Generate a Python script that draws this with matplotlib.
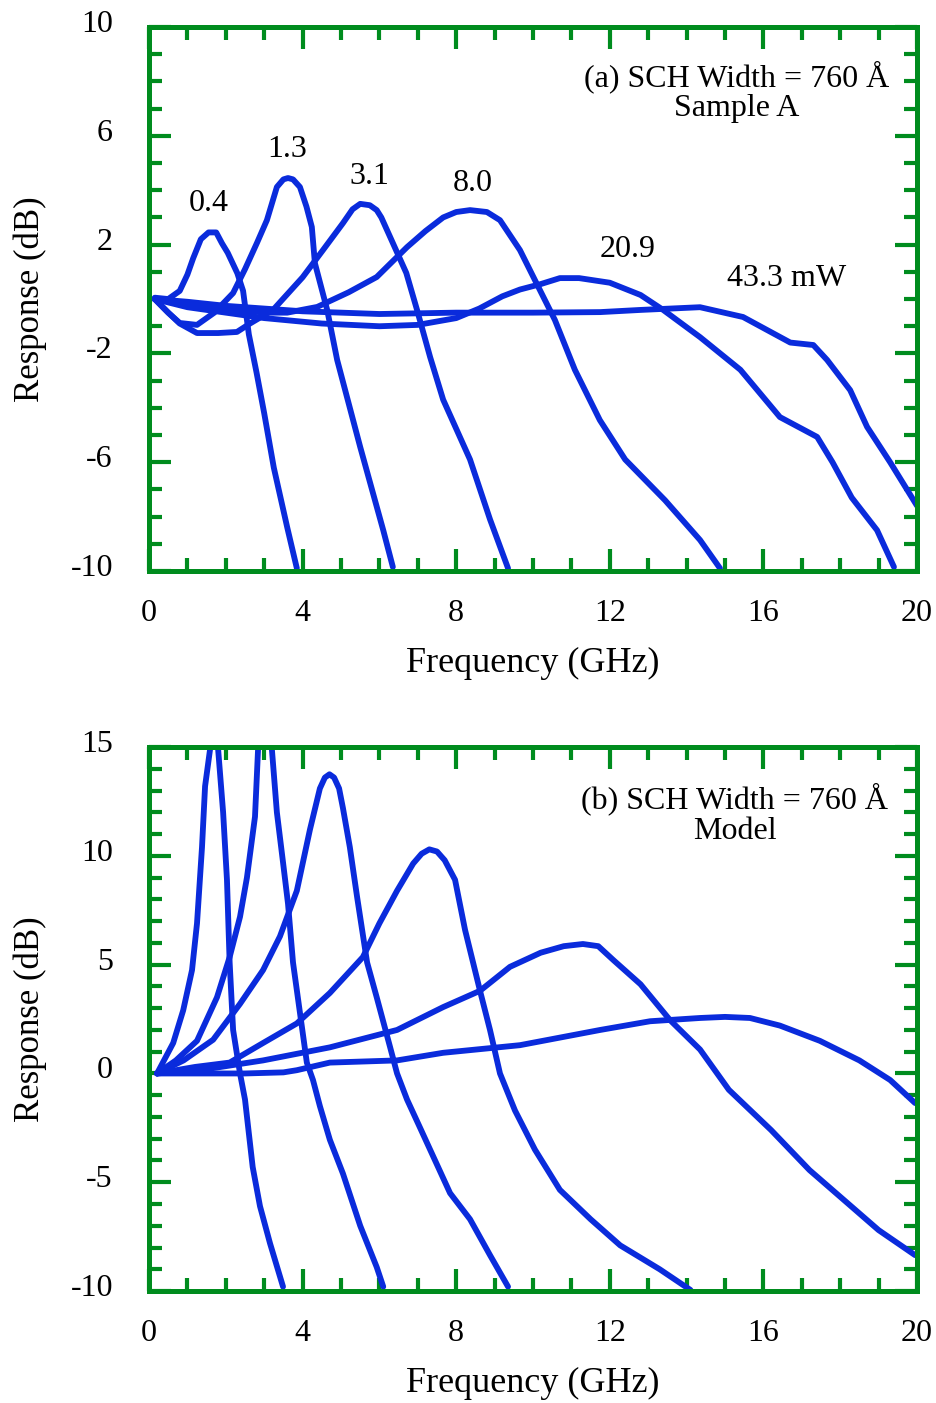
import matplotlib.pyplot as plt
from matplotlib.ticker import MultipleLocator, FixedLocator
from matplotlib.transforms import ScaledTranslation

plt.rcParams['font.family'] = ['Liberation Serif', 'DejaVu Serif']
plt.rcParams['axes.unicode_minus'] = False

BLUE = '#0a2bdc'
GREEN = '#008c1e'

# panel (a): measured response, Sample A
a_04_x = [0.15, 0.5, 0.8, 1.0, 1.15, 1.35, 1.55, 1.75, 1.9, 2.05, 2.3, 2.45, 2.6, 2.8, 3.0, 3.25, 3.6, 3.85]
a_04_y = [0.05, 0.0, 0.3, 0.9, 1.5, 2.2, 2.45, 2.45, 2.05, 1.7, 0.95, 0.3, -1.3, -2.7, -4.2, -6.2, -8.4, -9.9]

a_13_x = [0.15, 0.5, 0.8, 1.25, 1.7, 2.19, 2.5, 2.81, 3.07, 3.33, 3.5, 3.62, 3.75, 3.93, 4.1, 4.24, 4.32, 4.64, 4.9, 5.5, 6.1, 6.35]
a_13_y = [0.0, -0.5, -0.88, -0.95, -0.5, 0.22, 1.1, 2.06, 2.9, 4.12, 4.4, 4.45, 4.4, 4.12, 3.4, 2.65, 1.32, -0.4, -2.24, -5.44, -8.5, -9.85]

a_31_x = [0.15, 0.5, 0.8, 1.25, 1.8, 2.29, 2.63, 3.23, 4.0, 4.53, 5.05, 5.3, 5.5, 5.75, 5.93, 6.05, 6.35, 6.7, 6.98, 7.32, 7.66, 8.36, 8.88, 9.35]
a_31_y = [0.0, -0.5, -0.9, -1.25, -1.25, -1.21, -0.9, -0.4, 0.8, 1.8, 2.79, 3.3, 3.5, 3.45, 3.27, 3.0, 2.06, 0.96, -0.4, -2.13, -3.7, -5.9, -8.1, -9.9]

a_80_x = [0.15, 1.0, 2.0, 3.0, 3.6, 4.38, 5.2, 5.93, 6.72, 7.2, 7.66, 8.0, 8.36, 8.8, 9.14, 9.66, 10.18, 10.57, 11.09, 11.74, 12.4, 13.44, 14.35, 14.87]
a_80_y = [0.0, -0.15, -0.35, -0.5, -0.5, -0.29, 0.25, 0.81, 1.91, 2.5, 3.0, 3.2, 3.27, 3.2, 2.9, 1.8, 0.33, -0.77, -2.6, -4.45, -5.9, -7.4, -8.86, -9.9]

a_209_x = [0.15, 1.0, 2.0, 3.0, 4.5, 6.0, 7.0, 8.0, 8.6, 9.2, 9.66, 10.2, 10.7, 11.2, 12.0, 12.8, 13.39, 14.35, 15.4, 16.43, 17.4, 17.8, 18.3, 18.96, 19.4]
a_209_y = [0.0, -0.3, -0.5, -0.7, -0.9, -1.0, -0.95, -0.7, -0.35, 0.1, 0.35, 0.55, 0.77, 0.77, 0.6, 0.15, -0.4, -1.4, -2.6, -4.34, -5.07, -6.0, -7.3, -8.5, -9.85]

a_433_x = [0.15, 1.0, 2.0, 4.0, 6.0, 8.0, 10.0, 11.75, 12.8, 14.35, 15.47, 16.7, 17.3, 17.66, 18.26, 18.7, 19.3, 20.0]
a_433_y = [0.0, -0.1, -0.25, -0.45, -0.55, -0.5, -0.5, -0.48, -0.4, -0.3, -0.66, -1.6, -1.69, -2.24, -3.35, -4.7, -6.0, -7.6]

a_labels = ['0.4', '1.3', '3.1', '8.0', '20.9', '43.3 mW']
a_label_x = [1.56, 3.59, 5.73, 8.44, 12.47, 16.6]
a_label_y = [3.53, 5.51, 4.52, 4.26, 1.84, 0.74]
a_yticks = [-10, -6, -2, 2, 6, 10]

# panel (b): model
b_1_x = [0.21, 0.63, 0.89, 1.12, 1.25, 1.38, 1.46, 1.59, 1.7, 1.8, 1.93, 2.03, 2.1, 2.19, 2.37, 2.5, 2.7, 2.89, 3.15, 3.49]
b_1_y = [0.0, 1.4, 2.9, 4.75, 6.9, 10.4, 13.2, 14.9, 16.0, 14.9, 12.0, 8.9, 5.1, 2.0, 0.0, -1.2, -4.3, -6.1, -7.8, -9.8]

b_2_x = [0.21, 0.7, 1.25, 1.77, 2.1, 2.37, 2.55, 2.76, 2.84, 3.0, 3.2, 3.33, 3.49, 3.62, 3.75, 3.93, 4.11, 4.27, 4.45, 4.71, 5.05, 5.5, 5.93, 6.1]
b_2_y = [0.0, 0.6, 1.5, 3.5, 5.35, 7.2, 9.0, 11.8, 14.9, 17.0, 14.9, 12.0, 9.7, 7.8, 5.1, 2.8, 0.5, -0.3, -1.5, -3.05, -4.6, -7.0, -8.9, -9.8]

b_3_x = [0.21, 0.9, 1.67, 2.37, 2.97, 3.41, 3.85, 4.19, 4.45, 4.58, 4.7, 4.82, 4.95, 5.05, 5.23, 5.42, 5.68, 5.93, 6.28, 6.46, 6.72, 7.06, 7.32, 7.84, 8.36, 8.88, 9.35]
b_3_y = [0.0, 0.6, 1.55, 3.2, 4.75, 6.3, 8.4, 11.2, 13.1, 13.6, 13.75, 13.6, 13.1, 12.2, 10.4, 8.1, 5.1, 3.5, 1.2, 0.0, -1.2, -2.5, -3.5, -5.5, -6.7, -8.35, -9.8]

b_4_x = [0.21, 1.2, 2.1, 2.97, 3.85, 4.71, 5.57, 6.0, 6.46, 6.88, 7.1, 7.3, 7.5, 7.7, 7.97, 8.23, 8.62, 8.88, 9.14, 9.53, 10.05, 10.7, 11.5, 12.27, 13.3, 14.1]
b_4_y = [0.0, 0.3, 0.5, 1.4, 2.3, 3.7, 5.35, 6.9, 8.4, 9.65, 10.1, 10.3, 10.2, 9.8, 8.9, 6.6, 3.8, 2.0, 0.0, -1.7, -3.5, -5.35, -6.7, -7.9, -9.0, -9.95]

b_5_x = [0.21, 1.5, 2.97, 4.71, 6.46, 7.66, 8.62, 9.4, 10.2, 10.8, 11.3, 11.7, 12.1, 12.8, 13.57, 14.35, 15.1, 16.2, 17.2, 18.25, 19.0, 19.95]
b_5_y = [0.0, 0.2, 0.6, 1.2, 2.0, 3.05, 3.8, 4.9, 5.55, 5.85, 5.95, 5.85, 5.2, 4.1, 2.45, 1.1, -0.75, -2.6, -4.44, -6.05, -7.2, -8.35]

b_6_x = [0.21, 1.5, 2.5, 3.5, 3.85, 4.71, 6.46, 7.66, 9.66, 11.75, 13.05, 14.35, 15.0, 15.65, 16.43, 17.47, 18.5, 19.3, 19.95]
b_6_y = [0.0, 0.0, 0.0, 0.05, 0.15, 0.5, 0.6, 0.95, 1.3, 2.0, 2.4, 2.55, 2.6, 2.55, 2.2, 1.5, 0.6, -0.3, -1.36]


def style_axes(ax, ylim, yticks):
    ax.set_xlim(0, 20)
    ax.set_ylim(*ylim)
    ax.xaxis.set_major_locator(MultipleLocator(4))
    ax.xaxis.set_minor_locator(MultipleLocator(1))
    ax.yaxis.set_major_locator(FixedLocator(yticks))
    ax.yaxis.set_minor_locator(MultipleLocator(1))
    for sp in ax.spines.values():
        sp.set_color(GREEN)
        sp.set_linewidth(3.6)
    ax.tick_params(which='both', direction='in', top=True, right=True,
                   color=GREEN, width=3.0, labelsize=23)
    ax.tick_params(which='major', length=16)
    ax.tick_params(which='minor', length=9.5)
    ax.tick_params(axis='x', pad=20)
    ax.tick_params(axis='y', pad=26)
    ax.set_xlabel('Frequency (GHz)', fontsize=26, labelpad=14)
    ax.set_ylabel('Response (dB)', fontsize=25, labelpad=17)
    # y tick labels sit a little above their ticks in the original
    shift = ScaledTranslation(0, 6 / 100, ax.figure.dpi_scale_trans)
    for lab in ax.get_yticklabels():
        lab.set_transform(lab.get_transform() + shift)


fig = plt.figure(figsize=(9.36, 14.03), dpi=100)
ax1 = fig.add_axes([0.1592, 0.593, 0.8205, 0.3877])
ax2 = fig.add_axes([0.1592, 0.0798, 0.8205, 0.3877])

for xs, ys in [(a_04_x, a_04_y), (a_13_x, a_13_y), (a_31_x, a_31_y),
               (a_80_x, a_80_y), (a_209_x, a_209_y), (a_433_x, a_433_y)]:
    ax1.plot(xs, ys, color=BLUE, lw=4.2, solid_joinstyle='round', solid_capstyle='round')
for lab, lx, ly in zip(a_labels, a_label_x, a_label_y):
    ax1.text(lx, ly, lab, fontsize=23, ha='center', va='center')
ax1.text(15.3, 8.16, '(a) SCH Width = 760 Å', fontsize=23, ha='center', va='center')
ax1.text(15.3, 7.02, 'Sample A', fontsize=23, ha='center', va='center')
style_axes(ax1, (-10, 10), a_yticks)

for xs, ys in [(b_1_x, b_1_y), (b_2_x, b_2_y), (b_3_x, b_3_y),
               (b_4_x, b_4_y), (b_5_x, b_5_y), (b_6_x, b_6_y)]:
    ax2.plot(xs, ys, color=BLUE, lw=4.2, solid_joinstyle='round', solid_capstyle='round')
ax2.text(15.25, 12.6, '(b) SCH Width = 760 Å', fontsize=23, ha='center', va='center')
ax2.text(15.25, 11.14, 'Model', fontsize=23, ha='center', va='center')
style_axes(ax2, (-10, 15), [-10, -5, 0, 5, 10, 15])

fig.savefig('out.png', dpi=100)
